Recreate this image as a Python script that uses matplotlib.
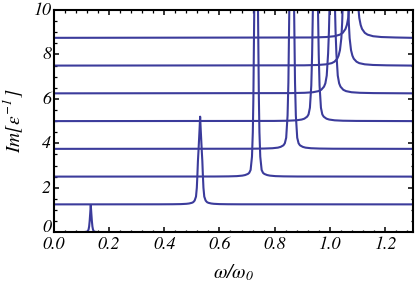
import numpy as np
import matplotlib
matplotlib.use("Agg")
import matplotlib.pyplot as plt
from matplotlib.ticker import MultipleLocator, FormatStrFormatter
import matplotlib.transforms as mtransforms

plt.rcParams['mathtext.fontset'] = 'custom'
plt.rcParams['mathtext.rm'] = 'STIXGeneral:italic'
plt.rcParams['mathtext.it'] = 'STIXGeneral:italic'
plt.rcParams['mathtext.cal'] = 'STIXGeneral:italic'

# ---- data ----
baselines = [0.0, 1.25, 2.5, 3.75, 5.0, 6.25, 7.5, 8.75]
centers = [0.1335, 0.530, 0.733, 0.862, 0.948, 1.009, 1.057, 1.087]
# one-sided offsets from each resonance (in omega/omega0)
offsets = [0.0, 0.002, 0.004, 0.006, 0.008, 0.010, 0.012, 0.015,
           0.02, 0.025, 0.03, 0.04, 0.05, 0.07, 0.1, 0.15]
# height above the baseline at each offset (symmetric about the centre)
heights = [
    [1.22, 0.85, 0.50, 0.25, 0.12, 0.06, 0.03, 0.015, 0.01, 0.0, 0.0, 0.0, 0.0, 0.0, 0.0, 0.0],
    [3.95, 3.40, 2.90, 2.40, 1.95, 1.30, 0.75, 0.35, 0.17, 0.10, 0.07, 0.04, 0.025, 0.012, 0.006, 0.003],
    [20.0, 15.0, 11.0, 8.5, 6.0, 3.5, 2.0, 0.9, 0.30, 0.17, 0.12, 0.07, 0.045, 0.022, 0.011, 0.005],
    [20.0, 15.0, 11.0, 9.0, 7.0, 5.0, 3.0, 1.5, 0.50, 0.25, 0.16, 0.09, 0.055, 0.028, 0.014, 0.006],
    [20.0, 14.0, 10.0, 8.0, 6.0, 4.5, 3.0, 1.6, 0.60, 0.30, 0.20, 0.11, 0.07, 0.035, 0.017, 0.008],
    [20.0, 14.0, 10.0, 7.0, 5.5, 3.8, 2.8, 1.8, 0.80, 0.45, 0.30, 0.16, 0.10, 0.05, 0.025, 0.011],
    [20.0, 14.0, 10.0, 6.0, 4.4, 2.8, 1.94, 1.24, 0.70, 0.45, 0.31, 0.175, 0.11, 0.057, 0.028, 0.012],
    [20.0, 15.0, 11.0, 8.0, 5.6, 3.6, 2.5, 1.6, 0.90, 0.58, 0.40, 0.225, 0.144, 0.073, 0.036, 0.016],
]
x_range = [0.0, 1.3]
xticks = [0.0, 0.2, 0.4, 0.6, 0.8, 1.0, 1.2]
yticks = [0, 2, 4, 6, 8, 10]

color = '#3b3b9b'

fig = plt.figure(figsize=(4.15, 2.88), dpi=100)
ax = fig.add_axes([0.130, 0.194, 0.864, 0.771])

off = np.array(offsets)
for b, c, h in zip(baselines, centers, heights):
    h = np.array(h)
    xs = np.concatenate([[x_range[0]], c - off[::-1], c + off[1:], [x_range[1]]])
    ys = np.concatenate([[0.0], h[::-1], h[1:], [0.0]]) + b
    keep = (xs >= x_range[0]) & (xs <= x_range[1])
    ax.plot(xs[keep], ys[keep], color=color, lw=1.5, solid_joinstyle='round')

ax.set_xlim(*x_range)
ax.set_ylim(0, 10)
ax.set_xticks(xticks)
ax.set_yticks(yticks)
ax.xaxis.set_minor_locator(MultipleLocator(0.04))
ax.yaxis.set_minor_locator(MultipleLocator(0.5))
ax.xaxis.set_major_formatter(FormatStrFormatter('%.1f'))
ax.yaxis.set_major_formatter(FormatStrFormatter('%d'))

for s in ax.spines.values():
    s.set_linewidth(1.5)
    s.set_color('black')

ax.tick_params(which='both', direction='in', top=True, right=True, color='black')
ax.tick_params(which='major', length=3.5, width=1.1, labelsize=13)
ax.tick_params(axis='x', which='major', pad=3.2)
ax.tick_params(axis='y', which='major', pad=2.0)
ax.tick_params(which='minor', length=1.8, width=0.9)
for lab in ax.get_xticklabels() + ax.get_yticklabels():
    lab.set_fontfamily('STIXGeneral')
    lab.set_fontstyle('italic')

# y tick labels sit slightly above their ticks; the "0" is lifted clear of "0.0"
ylabs = ax.get_yticklabels()
for i, lab in enumerate(ylabs):
    dy = 5.0 if i == 0 else 1.0
    lab.set_transform(lab.get_transform() +
                      mtransforms.ScaledTranslation(0, dy / 72, fig.dpi_scale_trans))

ax.set_xlabel(r'$\omega/\omega_0$', fontsize=14)
ax.set_ylabel(r'$Im[\epsilon^{-1}]$', fontsize=14)
ax.xaxis.set_label_coords(0.5, -0.135)
ax.yaxis.set_label_coords(-0.08, 0.5)

fig.savefig('out.png', dpi=100)
